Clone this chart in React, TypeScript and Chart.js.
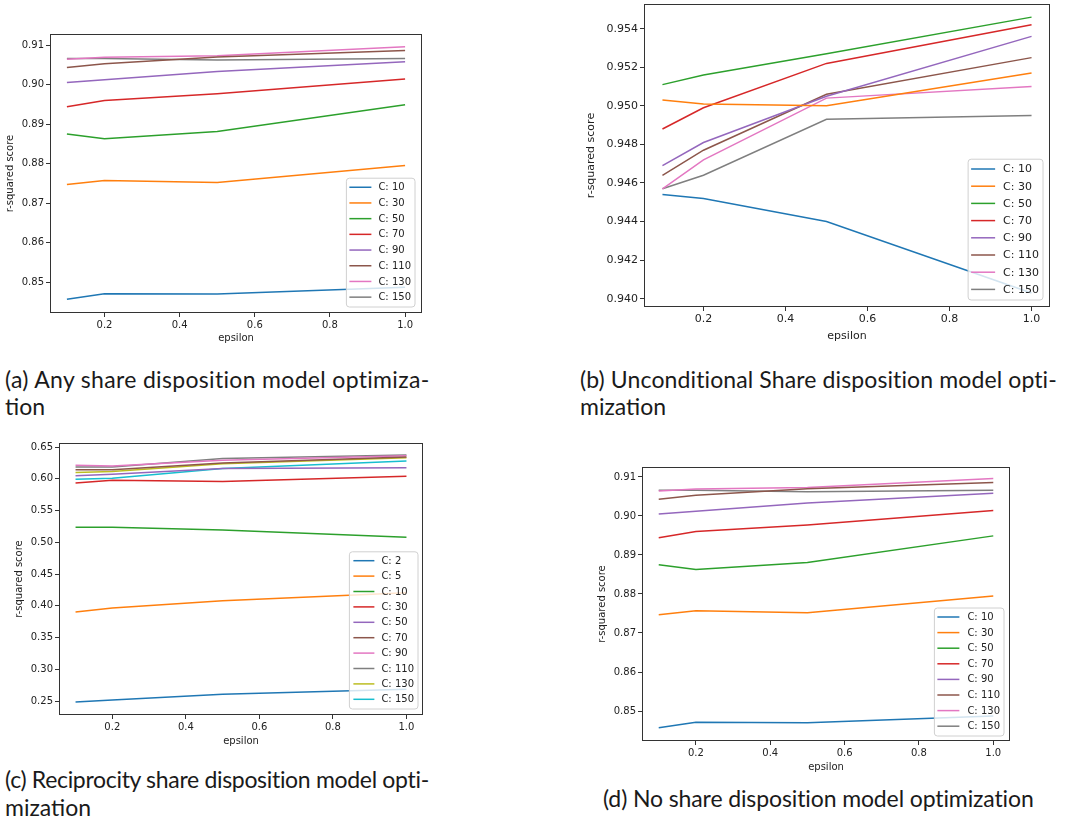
import React, { useEffect, useLayoutEffect, useRef } from "react";
import { Chart, registerables } from "chart.js";

Chart.register(...registerables);

// ---------- shared ----------
const EPSILON = [0.1, 0.2, 0.5, 1.0];
const X_TICKS = [0.2, 0.4, 0.6, 0.8, 1.0];
const COLORS = [
  "#1f77b4", "#ff7f0e", "#2ca02c", "#d62728", "#9467bd",
  "#8c564b", "#e377c2", "#7f7f7f", "#bcbd22", "#17becf",
];

// ---------- (a) Any share / (d) No share (same results) ----------
const ANY_LABELS = ["C: 10", "C: 30", "C: 50", "C: 70", "C: 90", "C: 110", "C: 130", "C: 150"];
const ANY_C10 = [0.8457, 0.8471, 0.847, 0.8487];
const ANY_C30 = [0.8747, 0.8757, 0.8752, 0.8795];
const ANY_C50 = [0.8875, 0.8863, 0.8881, 0.8949];
const ANY_C70 = [0.8944, 0.896, 0.8977, 0.9014];
const ANY_C90 = [0.9005, 0.9012, 0.9033, 0.9058];
const ANY_C110 = [0.9043, 0.9053, 0.907, 0.9086];
const ANY_C130 = [0.9064, 0.9069, 0.9073, 0.9096];
const ANY_C150 = [0.9066, 0.9066, 0.9062, 0.9066];
const ANY_Y_TICKS = [0.85, 0.86, 0.87, 0.88, 0.89, 0.9, 0.91];

// ---------- (b) Unconditional share ----------
const UNC_LABELS = ["C: 10", "C: 30", "C: 50", "C: 70", "C: 90", "C: 110", "C: 130", "C: 150"];
const UNC_C10 = [0.9454, 0.9452, 0.944, 0.9403];
const UNC_C30 = [0.9503, 0.9501, 0.95, 0.9517];
const UNC_C50 = [0.9511, 0.9516, 0.9527, 0.9546];
const UNC_C70 = [0.9488, 0.9499, 0.9522, 0.9542];
const UNC_C90 = [0.9469, 0.9481, 0.9505, 0.9536];
const UNC_C110 = [0.9464, 0.9477, 0.9506, 0.9525];
const UNC_C130 = [0.9457, 0.9472, 0.9504, 0.951];
const UNC_C150 = [0.9457, 0.9464, 0.9493, 0.9495];
const UNC_Y_TICKS = [0.94, 0.942, 0.944, 0.946, 0.948, 0.95, 0.952, 0.954];

// ---------- (c) Reciprocity share ----------
const REC_LABELS = ["C: 2", "C: 5", "C: 10", "C: 30", "C: 50", "C: 70", "C: 90", "C: 110", "C: 130", "C: 150"];
const REC_C2 = [0.2484, 0.2516, 0.2605, 0.2685];
const REC_C5 = [0.39, 0.3963, 0.4078, 0.4204];
const REC_C10 = [0.5237, 0.5237, 0.5195, 0.508];
const REC_C30 = [0.5934, 0.5976, 0.5955, 0.6039];
const REC_C50 = [0.6049, 0.607, 0.616, 0.6175];
const REC_C70 = [0.6143, 0.6143, 0.6248, 0.6343];
const REC_C90 = [0.6212, 0.62, 0.629, 0.6364];
const REC_C110 = [0.6185, 0.6185, 0.6317, 0.6374];
const REC_C130 = [0.61, 0.6115, 0.6238, 0.6332];
const REC_C150 = [0.5991, 0.6007, 0.616, 0.628];
const REC_Y_TICKS = [0.25, 0.3, 0.35, 0.4, 0.45, 0.5, 0.55, 0.6, 0.65];

const TEXT = "#222";

type LegendOpts = {
  fontSize: number;
  rowH: number;
  lineLen: number;
  gap: number;
  padL: number;
  padR: number;
  padT: number;
  padB: number;
  right: number;
  bottom: number;
};

const mplPlugin = {
  id: "mplLegend",
  afterDatasetsDraw(chart: any, _args: any, opts: LegendOpts) {
    const { ctx, chartArea: ca } = chart;
    ctx.save();
    // axes frame (spines)
    ctx.strokeStyle = "#333";
    ctx.lineWidth = 1;
    ctx.strokeRect(
      Math.round(ca.left) + 0.5,
      Math.round(ca.top) + 0.5,
      Math.round(ca.right - ca.left) - 1,
      Math.round(ca.bottom - ca.top) - 1
    );
    // legend
    const items = chart.data.datasets;
    ctx.font = `${opts.fontSize}px "DejaVu Sans"`;
    const maxW = Math.max(...items.map((d: any) => ctx.measureText(d.label).width));
    const w = opts.padL + opts.lineLen + opts.gap + maxW + opts.padR;
    const h = opts.padT + items.length * opts.rowH + opts.padB;
    const x = ca.right - opts.right - w;
    const y = ca.bottom - opts.bottom - h;
    const r = 3;
    ctx.beginPath();
    ctx.moveTo(x + r, y);
    ctx.lineTo(x + w - r, y);
    ctx.arcTo(x + w, y, x + w, y + r, r);
    ctx.lineTo(x + w, y + h - r);
    ctx.arcTo(x + w, y + h, x + w - r, y + h, r);
    ctx.lineTo(x + r, y + h);
    ctx.arcTo(x, y + h, x, y + h - r, r);
    ctx.lineTo(x, y + r);
    ctx.arcTo(x, y, x + r, y, r);
    ctx.closePath();
    ctx.fillStyle = "rgba(255,255,255,0.8)";
    ctx.fill();
    ctx.strokeStyle = "#d0d0d0";
    ctx.stroke();
    items.forEach((d: any, i: number) => {
      const cyy = y + opts.padT + opts.rowH * (i + 0.5);
      ctx.beginPath();
      ctx.strokeStyle = d.borderColor;
      ctx.lineWidth = 1.5;
      ctx.moveTo(x + opts.padL, cyy);
      ctx.lineTo(x + opts.padL + opts.lineLen, cyy);
      ctx.stroke();
      ctx.fillStyle = TEXT;
      ctx.textBaseline = "middle";
      ctx.textAlign = "left";
      ctx.fillText(d.label, x + opts.padL + opts.lineLen + opts.gap, cyy + 0.5);
    });
    ctx.restore();
  },
};

type PanelDef = {
  L: number; T: number; R: number; B: number;
  yTitleX: number; xTitleY: number;
  font: number;
  yMin: number; yMax: number;
  yTicks: number[]; yDec: number;
  labels: string[];
  series: number[][];
  legend: LegendOpts;
};

function PanelChart({ p }: { p: PanelDef }) {
  const ref = useRef<HTMLCanvasElement>(null);
  const lh = p.font * 1.2;
  const cx = Math.round(p.yTitleX - lh / 2);
  const cy = p.T - 10;
  const cw = p.R + 10 - cx;
  const ch = Math.round(p.xTitleY + lh / 2) - cy;

  useEffect(() => {
    const font = { family: "DejaVu Sans", size: p.font };
    const chart = new Chart(ref.current as HTMLCanvasElement, {
      type: "line",
      data: {
        datasets: p.labels.map((lab, i) => ({
          label: lab,
          data: EPSILON.map((x, j) => ({ x, y: p.series[i][j] })),
          borderColor: COLORS[i],
          backgroundColor: COLORS[i],
          borderWidth: 1.5,
          pointRadius: 0,
          tension: 0,
          fill: false,
        })),
      },
      options: {
        animation: false,
        responsive: false,
        devicePixelRatio: 1,
        events: [],
        layout: { padding: { top: p.T - cy, right: cx + cw - p.R, left: 0, bottom: 0 } },
        plugins: {
          legend: { display: false },
          tooltip: { enabled: false },
          mplLegend: p.legend,
        } as any,
        scales: {
          x: {
            type: "linear",
            min: 0.055,
            max: 1.045,
            afterBuildTicks: (a: any) => {
              a.ticks = X_TICKS.map((v) => ({ value: v }));
            },
            afterFit: (s: any) => {
              s.height = cy + ch - p.B;
            },
            ticks: {
              callback: (v: any) => Number(v).toFixed(1),
              font,
              color: TEXT,
              padding: 2,
              maxRotation: 0,
              autoSkip: false,
            },
            grid: { drawOnChartArea: false, drawTicks: true, tickLength: 4, color: "#333" },
            border: { display: false },
            title: { display: true, text: "epsilon", font, color: TEXT, padding: 0 },
          },
          y: {
            type: "linear",
            min: p.yMin,
            max: p.yMax,
            afterBuildTicks: (a: any) => {
              a.ticks = p.yTicks.map((v) => ({ value: v }));
            },
            afterFit: (s: any) => {
              s.width = p.L - cx;
            },
            ticks: {
              callback: (v: any) => Number(v).toFixed(p.yDec),
              font,
              color: TEXT,
              padding: 2,
              autoSkip: false,
            },
            grid: { drawOnChartArea: false, drawTicks: true, tickLength: 4, color: "#333" },
            border: { display: false },
            title: { display: true, text: "r-squared score", font, color: TEXT, padding: 0 },
          },
        },
      } as any,
      plugins: [mplPlugin],
    });
    return () => chart.destroy();
  }, []);

  return (
    <div style={{ position: "absolute", left: cx, top: cy, width: cw, height: ch }}>
      <canvas ref={ref} width={cw} height={ch} style={{ width: cw, height: ch, display: "block" }} />
    </div>
  );
}

const PANEL_A: PanelDef = {
  L: 50, T: 34, R: 422, B: 313, yTitleX: 10, xTitleY: 338, font: 10,
  yMin: 0.8422, yMax: 0.9128, yTicks: ANY_Y_TICKS, yDec: 2,
  labels: ANY_LABELS,
  series: [ANY_C10, ANY_C30, ANY_C50, ANY_C70, ANY_C90, ANY_C110, ANY_C130, ANY_C150],
  legend: { fontSize: 10, rowH: 15.7, lineLen: 22, gap: 7, padL: 3, padR: 4, padT: 1.2, padB: 2, right: 7, bottom: 6 },
};
const PANEL_B: PanelDef = {
  L: 644, T: 4, R: 1050, B: 307, yTitleX: 592, xTitleY: 336, font: 11,
  yMin: 0.93957, yMax: 0.95528, yTicks: UNC_Y_TICKS, yDec: 3,
  labels: UNC_LABELS,
  series: [UNC_C10, UNC_C30, UNC_C50, UNC_C70, UNC_C90, UNC_C110, UNC_C130, UNC_C150],
  legend: { fontSize: 11, rowH: 17.2, lineLen: 24, gap: 8, padL: 3, padR: 4, padT: 1.2, padB: 2, right: 7, bottom: 7 },
};
const PANEL_C: PanelDef = {
  L: 59, T: 443, R: 423, B: 715, yTitleX: 19, xTitleY: 741, font: 10,
  yMin: 0.228, yMax: 0.6563, yTicks: REC_Y_TICKS, yDec: 2,
  labels: REC_LABELS,
  series: [REC_C2, REC_C5, REC_C10, REC_C30, REC_C50, REC_C70, REC_C90, REC_C110, REC_C130, REC_C150],
  legend: { fontSize: 10, rowH: 15.4, lineLen: 21, gap: 7, padL: 4, padR: 4, padT: 1.2, padB: 2, right: 5, bottom: 6 },
};
const PANEL_D: PanelDef = {
  L: 642, T: 467, R: 1010, B: 741, yTitleX: 602, xTitleY: 767, font: 10,
  yMin: 0.84231, yMax: 0.91256, yTicks: ANY_Y_TICKS, yDec: 2,
  labels: ANY_LABELS,
  series: [ANY_C10, ANY_C30, ANY_C50, ANY_C70, ANY_C90, ANY_C110, ANY_C130, ANY_C150],
  legend: { fontSize: 10, rowH: 15.6, lineLen: 22, gap: 8, padL: 3, padR: 4, padT: 1.2, padB: 2, right: 6, bottom: 5 },
};

const CAPTION_FONT = 23;
const CAPTION_LH = 27;

function Caption({ x, baseline, text, fitWidth }: { x: number; baseline: number; text: string; fitWidth?: number }) {
  const ref = useRef<HTMLDivElement>(null);
  useLayoutEffect(() => {
    const el = ref.current;
    if (!el || !fitWidth) return;
    el.style.letterSpacing = "0px";
    const w = el.getBoundingClientRect().width;
    const n = Math.max(text.length - 1, 1);
    el.style.letterSpacing = `${(fitWidth - w) / n}px`;
  }, []);
  return (
    <div
      ref={ref}
      style={{
        position: "absolute",
        left: x,
        top: baseline - 22.4,
        fontFamily: "Lato, 'Noto Sans', sans-serif",
        fontSize: CAPTION_FONT,
        lineHeight: `${CAPTION_LH}px`,
        whiteSpace: "nowrap",
        color: "#1a1a1a",
      }}
    >
      {text}
    </div>
  );
}

export default function App() {
  return (
    <div style={{ position: "absolute", left: 0, top: 0, width: 1070, height: 823, background: "#fff", overflow: "hidden" }}>
      <PanelChart p={PANEL_A} />
      <PanelChart p={PANEL_B} />
      <PanelChart p={PANEL_C} />
      <PanelChart p={PANEL_D} />
      <Caption x={5} baseline={388} fitWidth={425} text="(a) Any share disposition model optimiza-" />
      <Caption x={5} baseline={415} text="tion" />
      <Caption x={580} baseline={388} fitWidth={478} text="(b) Unconditional Share disposition model opti-" />
      <Caption x={580} baseline={415} text="mization" />
      <Caption x={5} baseline={788} fitWidth={425} text="(c) Reciprocity share disposition model opti-" />
      <Caption x={5} baseline={816} text="mization" />
      <Caption x={603} baseline={807} fitWidth={432} text="(d) No share disposition model optimization" />
    </div>
  );
}
